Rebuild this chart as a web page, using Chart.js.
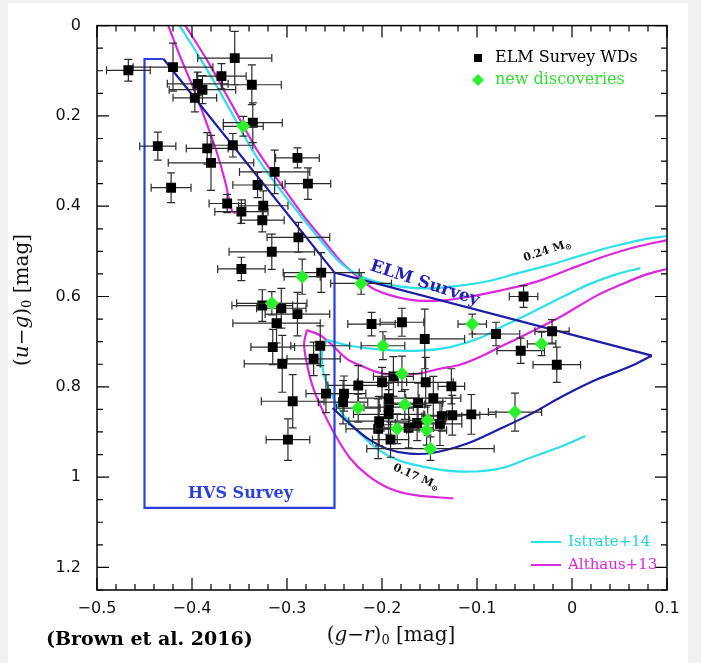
<!DOCTYPE html>
<html>
<head>
<meta charset="utf-8">
<script src="https://cdn.jsdelivr.net/npm/chart.js@4.4.1/dist/chart.umd.min.js"></script>
<style>
  html, body { margin: 0; padding: 0; background: #eef0f2; }
  #wrap { position: relative; width: 701px; height: 663px; }
</style>
</head>
<body>
<div id="wrap"><canvas id="cmd" width="701" height="663"></canvas></div>
<script>
// Axis ticks
const xTicks = [-0.5, -0.4, -0.3, -0.2, -0.1, 0, 0.1];
const xTickLabels = ['\u22120.5', '\u22120.4', '\u22120.3', '\u22120.2', '\u22120.1', '0', '0.1'];
const yTicks = [0, 0.2, 0.4, 0.6, 0.8, 1, 1.2];
const yTickLabels = ['0', '0.2', '0.4', '0.6', '0.8', '1', '1.2'];

// ELM Survey WDs (black squares)
const elmX = [-0.467, -0.420, -0.355, -0.369, -0.337, -0.394, -0.389, -0.397, -0.336, -0.436,
  -0.384, -0.357, -0.380, -0.289, -0.313, -0.422, -0.331, -0.278, -0.363, -0.325,
  -0.348, -0.326, -0.288, -0.316, -0.348, -0.264, -0.326, -0.306, -0.289, -0.311,
  -0.315, -0.265, -0.305, -0.272, -0.294, -0.299, -0.259, -0.240, -0.241, -0.225,
  -0.211, -0.179, -0.155, -0.200, -0.188, -0.154, -0.127, -0.193, -0.162, -0.146,
  -0.193, -0.193, -0.203, -0.204, -0.191, -0.172, -0.163, -0.139, -0.137, -0.126,
  -0.106, -0.080, -0.051, -0.054, -0.021, -0.016];
const elmY = [0.099, 0.092, 0.072, 0.112, 0.131, 0.129, 0.142, 0.160, 0.215, 0.267,
  0.272, 0.265, 0.304, 0.293, 0.324, 0.359, 0.353, 0.350, 0.394, 0.399,
  0.412, 0.431, 0.469, 0.501, 0.539, 0.547, 0.620, 0.626, 0.639, 0.659,
  0.712, 0.709, 0.749, 0.738, 0.832, 0.917, 0.815, 0.815, 0.834, 0.797,
  0.661, 0.657, 0.694, 0.790, 0.777, 0.790, 0.799, 0.825, 0.836, 0.825,
  0.845, 0.861, 0.876, 0.893, 0.917, 0.891, 0.880, 0.882, 0.865, 0.863,
  0.861, 0.683, 0.600, 0.720, 0.677, 0.751];
const elmXErr = [0.023, 0.042, 0.039, 0.026, 0.031, 0.032, 0.035, 0.023, 0.031, 0.019,
  0.022, 0.021, 0.045, 0.023, 0.037, 0.021, 0.026, 0.024, 0.019, 0.026,
  0.028, 0.023, 0.033, 0.045, 0.025, 0.040, 0.032, 0.026, 0.034, 0.046,
  0.023, 0.031, 0.040, 0.028, 0.033, 0.023, 0.021, 0.023, 0.026, 0.032,
  0.025, 0.023, 0.042, 0.026, 0.021, 0.029, 0.014, 0.032, 0.026, 0.029,
  0.026, 0.037, 0.032, 0.034, 0.019, 0.026, 0.023, 0.023, 0.021, 0.029,
  0.026, 0.025, 0.015, 0.025, 0.018, 0.025];
const elmYErr = [0.024, 0.053, 0.059, 0.028, 0.044, 0.026, 0.031, 0.031, 0.044, 0.031,
  0.035, 0.026, 0.061, 0.022, 0.048, 0.033, 0.028, 0.035, 0.020, 0.033,
  0.026, 0.026, 0.033, 0.039, 0.026, 0.044, 0.035, 0.044, 0.048, 0.044,
  0.039, 0.044, 0.063, 0.037, 0.059, 0.046, 0.042, 0.039, 0.048, 0.044,
  0.026, 0.031, 0.066, 0.033, 0.044, 0.055, 0.039, 0.033, 0.044, 0.048,
  0.039, 0.044, 0.055, 0.066, 0.039, 0.044, 0.039, 0.048, 0.033, 0.044,
  0.044, 0.026, 0.024, 0.028, 0.026, 0.039];

// new discoveries (green diamonds)
const newX = [-0.346, -0.284, -0.222, -0.316, -0.199, -0.105, -0.032, -0.179, -0.225, -0.176, -0.184, -0.152, -0.153, -0.149, -0.060];
const newY = [0.223, 0.556, 0.571, 0.615, 0.709, 0.661, 0.705, 0.771, 0.847, 0.839, 0.893, 0.874, 0.896, 0.937, 0.856];
const newXErr = [0.021, 0.019, 0.032, 0.037, 0.023, 0.015, 0.015, 0.021, 0.023, 0.021, 0.023, 0.019, 0.021, 0.067, 0.028];
const newYErr = [0.022, 0.039, 0.024, 0.026, 0.031, 0.022, 0.026, 0.039, 0.031, 0.033, 0.033, 0.033, 0.033, 0.026, 0.042];

// Istrate+14 tracks (cyan)
const istrateHigh = [[-0.413, 0], [-0.390, 0.077], [-0.363, 0.175], [-0.337, 0.274], [-0.312, 0.350], [-0.286, 0.420],
  [-0.264, 0.477], [-0.248, 0.517], [-0.234, 0.541], [-0.213, 0.563], [-0.181, 0.578], [-0.150, 0.582],
  [-0.118, 0.576], [-0.086, 0.565], [-0.055, 0.547], [-0.023, 0.530], [0.008, 0.510], [0.040, 0.491],
  [0.072, 0.475], [0.100, 0.466]];
const istrateMid = [[-0.258, 0.696], [-0.234, 0.709], [-0.199, 0.718], [-0.160, 0.720], [-0.128, 0.712],
  [-0.097, 0.692], [-0.073, 0.666], [-0.044, 0.637], [-0.013, 0.604], [0.019, 0.572], [0.045, 0.552], [0.072, 0.537]];
const istrateLow = [[-0.258, 0.696], [-0.263, 0.723], [-0.263, 0.749], [-0.260, 0.782], [-0.253, 0.817],
  [-0.241, 0.861], [-0.223, 0.904], [-0.202, 0.942], [-0.181, 0.964], [-0.146, 0.981], [-0.111, 0.988],
  [-0.076, 0.981], [-0.044, 0.957], [-0.010, 0.931], [0.014, 0.909]];

// Althaus+13 tracks (magenta)
const althausHigh = [[-0.407, 0], [-0.384, 0.077], [-0.358, 0.175], [-0.332, 0.274], [-0.307, 0.350], [-0.283, 0.420],
  [-0.261, 0.477], [-0.244, 0.521], [-0.228, 0.552], [-0.207, 0.585], [-0.171, 0.607], [-0.139, 0.609],
  [-0.107, 0.600], [-0.076, 0.587], [-0.037, 0.567], [-0.002, 0.539], [0.033, 0.512], [0.066, 0.491], [0.100, 0.475]];
const althausEarly = [[-0.425, 0], [-0.413, 0.066], [-0.399, 0.136], [-0.386, 0.208], [-0.374, 0.280],
  [-0.365, 0.346], [-0.358, 0.410], [-0.354, 0.416]];
const althausMid = [[-0.279, 0.674], [-0.262, 0.690], [-0.237, 0.738], [-0.220, 0.755], [-0.202, 0.769],
  [-0.184, 0.773], [-0.163, 0.771], [-0.139, 0.760], [-0.118, 0.751], [-0.097, 0.734], [-0.076, 0.712],
  [-0.044, 0.679], [-0.013, 0.646], [0.026, 0.598], [0.051, 0.574], [0.077, 0.552], [0.100, 0.539]];
const althausLow = [[-0.279, 0.674], [-0.282, 0.705], [-0.279, 0.749], [-0.273, 0.799], [-0.263, 0.850],
  [-0.250, 0.904], [-0.234, 0.957], [-0.215, 0.996], [-0.192, 1.025], [-0.165, 1.040], [-0.125, 1.047]];

// Survey selection boundaries
const hvsBox = [[-0.43, 0.074], [-0.45, 0.074], [-0.45, 1.068], [-0.25, 1.068], [-0.25, 0.547]];
const elmUpper = [[-0.43, 0.074], [-0.25, 0.547], [0.084, 0.731]];
const elmLower = [[-0.252, 0.847], [-0.234, 0.882], [-0.216, 0.913], [-0.195, 0.937], [-0.171, 0.948],
  [-0.146, 0.946], [-0.111, 0.926], [-0.079, 0.896], [-0.044, 0.861], [-0.010, 0.821], [0.026, 0.784],
  [0.061, 0.755], [0.084, 0.731]];

const CYAN = '#2fe0e6';
const MAGENTA = '#dc28dc';
const NAVY = '#1c1ca6';
const BLUE = '#2b3fdc';
const GREEN = '#2cf02c';

function toPoints(pairs) {
    return pairs.map(([x, y]) => ({ x, y }));
}

function track(pairs, color, tension) {
    return {
        data: toPoints(pairs),
        showLine: true,
        borderColor: color,
        borderWidth: 2.2,
        pointRadius: 0,
        pointHoverRadius: 0,
        tension: tension,
        fill: false
    };
}

// Error bars drawn right before each scatter dataset
const errorBars = {
    id: 'errorBars',
    beforeDatasetDraw(chart, args) {
        const ds = chart.data.datasets[args.index];
        if (!ds.errX) return;
        const xs = chart.scales.x, ys = chart.scales.y, ctx = chart.ctx;
        const cap = 4;
        ctx.save();
        ctx.strokeStyle = '#2b2b2b';
        ctx.lineWidth = 1.2;
        ds.data.forEach((p, i) => {
            const px = xs.getPixelForValue(p.x), py = ys.getPixelForValue(p.y);
            const x0 = xs.getPixelForValue(p.x - ds.errX[i]), x1 = xs.getPixelForValue(p.x + ds.errX[i]);
            const y0 = ys.getPixelForValue(p.y - ds.errY[i]), y1 = ys.getPixelForValue(p.y + ds.errY[i]);
            ctx.beginPath();
            ctx.moveTo(x0, py); ctx.lineTo(x1, py);
            ctx.moveTo(px, y0); ctx.lineTo(px, y1);
            ctx.moveTo(x0, py - cap); ctx.lineTo(x0, py + cap);
            ctx.moveTo(x1, py - cap); ctx.lineTo(x1, py + cap);
            ctx.moveTo(px - cap, y0); ctx.lineTo(px + cap, y0);
            ctx.moveTo(px - cap, y1); ctx.lineTo(px + cap, y1);
            ctx.stroke();
        });
        ctx.restore();
    }
};

function richText(ctx, parts, x, y, align) {
    let w = 0;
    parts.forEach(p => { ctx.font = p.font; w += ctx.measureText(p.t).width; });
    let cx = align === 'center' ? x - w / 2 : (align === 'right' ? x - w : x);
    ctx.textAlign = 'left';
    ctx.textBaseline = 'middle';
    parts.forEach(p => {
        ctx.font = p.font;
        ctx.fillText(p.t, cx, y + (p.dy || 0));
        cx += ctx.measureText(p.t).width;
    });
}

// Background, frame, inward ticks and all annotations
const decor = {
    id: 'decor',
    beforeDraw(chart) {
        const ctx = chart.ctx;
        ctx.save();
        ctx.fillStyle = '#eef0f2';
        ctx.fillRect(0, 0, chart.width, chart.height);
        ctx.fillStyle = '#ffffff';
        ctx.fillRect(8, 3, 680, 660);
        ctx.restore();
    },
    afterDraw(chart) {
        const ctx = chart.ctx;
        const a = chart.chartArea;
        const xs = chart.scales.x, ys = chart.scales.y;
        ctx.save();

        // frame
        ctx.strokeStyle = '#000';
        ctx.lineWidth = 1.5;
        ctx.strokeRect(a.left, a.top, a.right - a.left, a.bottom - a.top);

        // ticks
        ctx.lineWidth = 1.2;
        ctx.beginPath();
        for (let i = 0; i <= 30; i++) {
            const v = -0.5 + i * 0.02;
            const len = i % 5 === 0 ? 12 : 6;
            const px = xs.getPixelForValue(v);
            ctx.moveTo(px, a.bottom); ctx.lineTo(px, a.bottom - len);
            ctx.moveTo(px, a.top); ctx.lineTo(px, a.top + len);
        }
        for (let i = 0; i <= 25; i++) {
            const v = i * 0.05;
            const len = i % 4 === 0 ? 12 : 6;
            const py = ys.getPixelForValue(v);
            ctx.moveTo(a.left, py); ctx.lineTo(a.left + len, py);
            ctx.moveTo(a.right, py); ctx.lineTo(a.right - len, py);
        }
        ctx.stroke();

        // survey labels
        ctx.fillStyle = '#2222b8';
        ctx.save();
        ctx.translate(xs.getPixelForValue(-0.155), ys.getPixelForValue(0.571));
        ctx.rotate(18 * Math.PI / 180);
        richText(ctx, [{ t: 'ELM Survey', font: 'bold 17px "DejaVu Serif"' }], 0, 0, 'center');
        ctx.restore();

        ctx.fillStyle = BLUE;
        richText(ctx, [{ t: 'HVS Survey', font: 'bold 16px "DejaVu Serif"' }],
            xs.getPixelForValue(-0.349), ys.getPixelForValue(1.036), 'center');

        // mass labels
        ctx.fillStyle = '#111';
        ctx.save();
        ctx.translate(xs.getPixelForValue(-0.026), ys.getPixelForValue(0.499));
        ctx.rotate(-18 * Math.PI / 180);
        richText(ctx, [{ t: '0.24 M', font: 'bold 11px "DejaVu Serif"' },
            { t: '\u2299', font: 'bold 8px "DejaVu Sans"', dy: 3 }], 0, 0, 'center');
        ctx.restore();
        ctx.save();
        ctx.translate(xs.getPixelForValue(-0.164), ys.getPixelForValue(1.0));
        ctx.rotate(24 * Math.PI / 180);
        richText(ctx, [{ t: '0.17 M', font: 'bold 11px "DejaVu Serif"' },
            { t: '\u2299', font: 'bold 8px "DejaVu Sans"', dy: 3 }], 0, 0, 'center');
        ctx.restore();

        // top-right legend
        ctx.fillStyle = '#000';
        ctx.fillRect(474, 54, 8, 8);
        richText(ctx, [{ t: 'ELM Survey WDs', font: '16px "DejaVu Serif"' }], 495, 58, 'left');
        ctx.fillStyle = GREEN;
        ctx.beginPath();
        ctx.moveTo(478, 74); ctx.lineTo(484, 80); ctx.lineTo(478, 86); ctx.lineTo(472, 80);
        ctx.closePath();
        ctx.fill();
        ctx.fillStyle = '#33dd33';
        richText(ctx, [{ t: 'new discoveries', font: '16px "DejaVu Serif"' }], 495, 80, 'left');

        // bottom-right legend
        ctx.lineWidth = 2;
        ctx.strokeStyle = CYAN;
        ctx.beginPath(); ctx.moveTo(531, 542); ctx.lineTo(561, 542); ctx.stroke();
        ctx.strokeStyle = MAGENTA;
        ctx.beginPath(); ctx.moveTo(531, 565); ctx.lineTo(561, 565); ctx.stroke();
        ctx.fillStyle = '#22d4dc';
        richText(ctx, [{ t: 'Istrate+14', font: '15px "DejaVu Serif"' }], 568, 542, 'left');
        ctx.fillStyle = '#d826d8';
        richText(ctx, [{ t: 'Althaus+13', font: '15px "DejaVu Serif"' }], 568, 565, 'left');

        // axis titles
        ctx.fillStyle = '#111';
        const f = '20px "DejaVu Serif"', fi = 'italic 20px "DejaVu Serif"', fs = '13px "DejaVu Serif"';
        richText(ctx, [{ t: '(', font: f }, { t: 'g', font: fi }, { t: '\u2212', font: f }, { t: 'r', font: fi },
            { t: ')', font: f }, { t: '0', font: fs, dy: 5 }, { t: ' [mag]', font: f }], 391, 636, 'center');
        ctx.save();
        ctx.translate(23, 300);
        ctx.rotate(-Math.PI / 2);
        richText(ctx, [{ t: '(', font: f }, { t: 'u', font: fi }, { t: '\u2212', font: f }, { t: 'g', font: fi },
            { t: ')', font: f }, { t: '0', font: fs, dy: 5 }, { t: ' [mag]', font: f }], 0, 0, 'center');
        ctx.restore();

        // citation
        ctx.fillStyle = '#000';
        richText(ctx, [{ t: '(Brown et al. 2016)', font: 'bold 19px "DejaVu Serif"' }], 46, 640, 'left');

        ctx.restore();
    }
};

const datasets = [
    Object.assign({
        label: 'new discoveries',
        data: newX.map((x, i) => ({ x, y: newY[i] })),
        pointStyle: 'rectRot',
        pointRadius: 7,
        pointBackgroundColor: GREEN,
        pointBorderWidth: 0,
        pointBorderColor: GREEN
    }, { errX: newXErr, errY: newYErr }),
    Object.assign({
        label: 'ELM Survey WDs',
        data: elmX.map((x, i) => ({ x, y: elmY[i] })),
        pointStyle: 'rect',
        pointRadius: 7,
        pointBackgroundColor: '#000',
        pointBorderWidth: 0,
        pointBorderColor: '#000'
    }, { errX: elmXErr, errY: elmYErr }),
    track(elmUpper, NAVY, 0),
    track(elmLower, NAVY, 0.35),
    track(hvsBox, BLUE, 0),
    track(istrateHigh, CYAN, 0.3),
    track(istrateMid, CYAN, 0.35),
    track(istrateLow, CYAN, 0.35),
    track(althausHigh, MAGENTA, 0.3),
    track(althausEarly, MAGENTA, 0.3),
    track(althausMid, MAGENTA, 0.35),
    track(althausLow, MAGENTA, 0.35)
];

new Chart(document.getElementById('cmd'), {
    type: 'scatter',
    data: { datasets },
    options: {
        responsive: false,
        animation: false,
        devicePixelRatio: 1,
        layout: { padding: { top: 20, right: 34, left: 0, bottom: 0 } },
        plugins: { legend: { display: false }, tooltip: { enabled: false } },
        scales: {
            x: {
                type: 'linear',
                min: -0.5,
                max: 0.1,
                afterBuildTicks: s => { s.ticks = xTicks.map(v => ({ value: v })); },
                afterFit: s => { s.height = 73; },
                grid: { display: false, drawTicks: false },
                border: { display: false },
                ticks: {
                    padding: 9,
                    color: '#111',
                    font: { family: '"DejaVu Sans"', size: 16 },
                    callback: (v, i) => xTickLabels[i]
                }
            },
            y: {
                type: 'linear',
                reverse: true,
                min: 0,
                max: 1.25,
                afterBuildTicks: s => { s.ticks = yTicks.map(v => ({ value: v })); },
                afterFit: s => { s.width = 97; },
                grid: { display: false, drawTicks: false },
                border: { display: false },
                ticks: {
                    padding: 16,
                    color: '#111',
                    font: { family: '"DejaVu Sans"', size: 16 },
                    callback: (v, i) => yTickLabels[i]
                }
            }
        }
    },
    plugins: [decor, errorBars]
});
</script>
</body>
</html>
